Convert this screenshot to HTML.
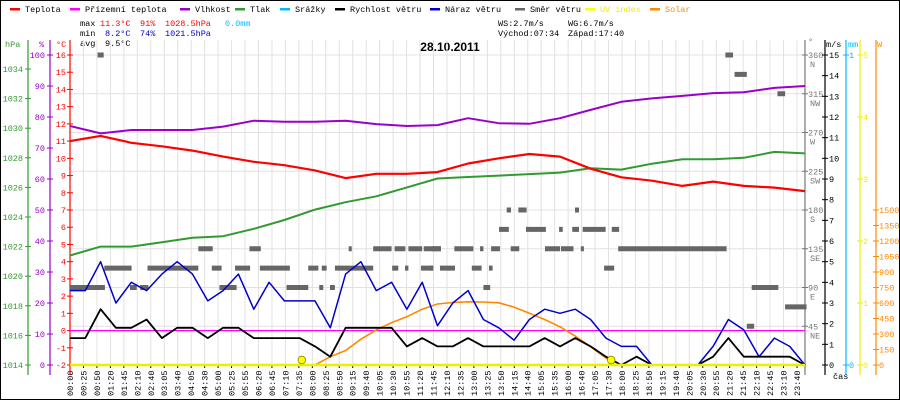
<!DOCTYPE html>
<html><head><meta charset="utf-8"><style>
html,body{margin:0;padding:0;background:#fff}
svg{display:block}
text{font-family:"Liberation Mono",monospace;font-size:8.5px}
</style></head><body>
<svg id="chart" width="900" height="400" viewBox="0 0 900 400" xmlns="http://www.w3.org/2000/svg">
<rect x="0.5" y="0.5" width="899" height="399" fill="#fff" stroke="#000"/>
<g id="legend"></g>
<g>
<text x="80" y="26">max</text><text x="100" y="26" fill="#f00">11.3°C</text><text x="140" y="26" fill="#f00">91%</text><text x="165" y="26" fill="#f00">1028.5hPa</text><text x="225" y="26" fill="#00bfff">0.0mm</text>
<text x="80" y="36">min</text><text x="105" y="36" fill="#00c">8.2°C</text><text x="140" y="36" fill="#00c">74%</text><text x="165" y="36" fill="#00c">1021.5hPa</text>
<text x="80" y="46">avg</text><text x="105" y="46">9.5°C</text>
<text x="498" y="26">WS:2.7m/s</text><text x="568" y="26">WG:6.7m/s</text>
<text x="498" y="36">Východ:07:34</text><text x="568" y="36">Západ:17:40</text>
</g>
<text x="450" y="51" text-anchor="middle" style="font-family:'Liberation Sans',sans-serif;font-size:12px;font-weight:bold">28.10.2011</text>
<g id="grid"></g>
<g id="axes"></g>
<g id="series"></g>
</svg>
<script>
// ---- data ----
const timeLabels=["00:00","00:25","00:50","01:20","01:45","02:10","02:40","03:05","03:40","04:05","04:30","05:00","05:25","05:55","06:20","06:45","07:10","07:35","08:00","08:25","08:50","09:15","09:40","10:05","10:30","10:55","11:20","11:45","12:10","12:35","13:00","13:25","13:50","14:15","14:40","15:05","15:35","16:00","16:40","17:05","17:30","18:00","18:25","18:50","19:15","19:40","20:05","20:30","20:55","21:20","21:45","22:10","22:45","23:10","23:40"];
const hourly=[0,1,2,3,4,5,6,7,8,9,10,11,12,13,14,15,16,17,18,19,20,21,22,23,24];
const temperature=[11.0,11.3,10.9,10.7,10.45,10.1,9.8,9.6,9.3,8.85,9.1,9.1,9.2,9.7,10.0,10.25,10.1,9.4,8.9,8.7,8.4,8.65,8.4,8.3,8.1];
const groundTemp=[0,0,0,0,0,0,0,0,0,0,0,0,0,0,0,0,0,0,0,0,0,0,0,0,0];
const humidity=[77.1,74.7,75.8,75.8,75.8,76.9,78.8,78.5,78.5,78.8,77.7,77.1,77.4,79.6,78,77.8,79.6,82.3,84.9,86,86.8,87.7,88,89.4,90];
const pressure=[1021.4,1022.0,1022.0,1022.3,1022.6,1022.7,1023.2,1023.8,1024.5,1025.0,1025.4,1026.0,1026.6,1026.7,1026.8,1026.9,1027.0,1027.3,1027.2,1027.6,1027.9,1027.9,1028.0,1028.4,1028.3];
const halfHours=[0,0.5,1,1.5,2,2.5,3,3.5,4,4.5,5,5.5,6,6.5,7,7.5,8,8.5,9,9.5,10,10.5,11,11.5,12,12.5,13,13.5,14,14.5,15,15.5,16,16.5,17,17.5,18,18.5,19,19.5,20,20.5,21,21.5,22,22.5,23,23.5,24];
const windSpeed=[1.3,1.3,2.7,1.8,1.8,2.2,1.3,1.8,1.8,1.3,1.8,1.8,1.3,1.3,1.3,1.3,0.9,0.4,1.8,1.8,1.8,1.8,0.9,1.3,0.9,0.9,1.3,0.9,0.9,0.9,0.9,1.3,0.9,1.3,0.9,0.4,0,0.4,0,0,0,0,0.4,1.3,0.4,0.4,0.4,0.4,0];
const windGust=[3.6,3.6,5.0,3.0,4.0,3.6,4.4,5.0,4.4,3.1,3.6,4.4,2.7,4.0,3.1,3.1,3.1,1.8,4.4,5.0,3.6,4.0,2.7,4.0,1.9,3.0,3.6,2.2,1.8,1.2,2.2,2.7,2.5,2.7,2.2,1.3,0.9,0.9,0,0,0,0,0.9,2.2,1.7,0.4,1.3,0.9,0];
const solarHours=[8.0,8.5,9,9.5,10,10.5,11,11.5,12,12.5,13,13.5,14,14.5,15,15.5,16,16.5,17,17.5,17.8];
const solar=[0,80,140,250,340,410,467,540,590,605,612,610,602,560,500,440,370,280,177,68,0];
const uvHours=[0,24];
const uvIndex=[0,0];
const sunEvents=[7.57,17.67];
const dirStart=[0,1.96,2.29,4.88,7.07,8.14,8.49,1.12,2.53,4.63,5.39,6.2,7.78,8.22,8.65,10.52,10.94,11.46,4.19,5.86,9.1,9.9,10.6,11.05,11.55,13.5,22.26,11.81,12.55,13.39,13.75,14.39,15.51,16.03,16.68,17.9,11.76,12.08,13.12,13.68,17.44,14.01,14.89,15.97,16.4,16.74,17.69,14.26,14.64,16.49,23.35,22.1,0.9,21.4,21.7,23.1];
const dirEnd=[1.14,2.18,2.56,5.44,7.78,8.27,8.65,2.01,4.19,4.95,5.88,7.18,8.11,8.38,9.9,10.72,11.05,11.86,4.66,6.23,9.2,10.5,10.95,11.5,12.11,13.72,23.13,12.11,13.17,13.5,14.04,14.67,16.0,16.44,16.78,21.44,11.86,12.57,13.44,13.8,17.77,14.33,15.54,16.09,16.62,17.49,17.93,14.4,14.91,16.62,24.05,22.34,1.1,21.65,22.1,23.35];
const dirValue=[90,90,90,90,90,90,90,112.5,112.5,112.5,112.5,112.5,112.5,112.5,112.5,112.5,112.5,112.5,135,135,135,135,135,135,135,90,90,135,135,135,135,135,135,135,135,135,112.5,112.5,112.5,112.5,112.5,157.5,157.5,157.5,157.5,157.5,157.5,180,180,180,67.5,45,360,360,337.5,315];
const legendNames=["Teplota","Přízemní teplota","Vlhkost","Tlak","Srážky","Rychlost větru","Náraz větru","Směr větru","UV index","Solar"];
const legendColors=["#f00","#f0f","#90c","#393","#0bf","#000","#00c","#666","#ff0","#f80"];

// ---- scales ----
const X0=70,X1=805,YB=365,YT=55;
const xT=h=>X0+(X1-X0)*h/24;
const yTemp=t=>YB-(t+2)*(YB-YT)/18;
const yHum=v=>YB-v*(YB-YT)/100;
const yPres=p=>YB-(p-1014)*14.8;
const yWind=v=>YB-v*(YB-YT)/15;
const yDir=d=>YB-d*(YB-YT)/360;
const yUV=v=>YB-v*(YB-YT)/5;
const ySol=w=>YB-w*(155/1500);
const NS="http://www.w3.org/2000/svg";
function mk(tag,attrs,parent,txt){const e=document.createElementNS(NS,tag);for(const k in attrs)e.setAttribute(k,attrs[k]);if(txt!==undefined)e.textContent=txt;parent.appendChild(e);return e;}
const grid=document.getElementById('grid'),axes=document.getElementById('axes'),series=document.getElementById('series'),legend=document.getElementById('legend');

// legend
const legX=[10,70,180,235,280,335,430,515,585,650];
legendNames.forEach((n,i)=>{
 const g=mk('g',{},legend);
 
 
 mk('rect',{x:legX[i],y:8,width:10,height:2.5,fill:legendColors[i]},g);
 mk('text',{x:legX[i]+15,y:12,fill:i==8?'#ee0':(i==9?'#f80':'#000')},g,n);
});

// grid
timeLabels.forEach((l,i)=>{
 const x=X0+i*(797-X0)/(timeLabels.length-1);
 const ln=mk('line',{x1:x,y1:40,x2:x,y2:YB,stroke:'#e4e0e0','stroke-width':1},grid);
 
 
 const t=mk('text',{transform:`translate(${x+3},396) rotate(-90)`,'font-size':'8.5'},axes,l);
 
 
 mk('line',{x1:x,y1:YB,x2:x,y2:YB+3,stroke:'#000'},axes);
});
for(let d=45;d<=360;d+=45){
 const ln=mk('line',{x1:X0,y1:yDir(d),x2:X1,y2:yDir(d),stroke:'#e4e0e0'},grid);
 
 
}

// left axes
function vaxis(x,y1,color,name){const l=mk('line',{x1:x,y1:y1,x2:x,y2:YB+10,stroke:color,'stroke-width':1.2},axes);}
vaxis(28,40,'#393','hpa-axis');vaxis(50,40,'#90c','humidity-axis');vaxis(70,40,'#f00','temp-axis');
vaxis(805,40,'#777','direction-axis');vaxis(825,40,'#000','wind-axis');vaxis(846,40,'#0bf','rain-axis');vaxis(860,40,'#ee0','uv-axis');vaxis(876,40,'#f80','solar-axis');
mk('text',{x:5,y:47,fill:'#393'},axes,'hPa');mk('text',{x:39,y:47,fill:'#90c'},axes,'%');mk('text',{x:56,y:47,fill:'#f00'},axes,'°C');
mk('text',{x:808,y:44,fill:'#777'},axes,'°');mk('text',{x:826,y:47},axes,'m/s');mk('text',{x:848,y:47,fill:'#0bf'},axes,'mm');mk('text',{x:877,y:47,fill:'#f80'},axes,'W');
mk('text',{x:833,y:379},axes,'čas');
for(let p=1014;p<=1034;p+=2){const y=yPres(p);mk('line',{x1:25,y1:y,x2:31,y2:y,stroke:'#393'},axes);mk('text',{x:23,y:y+3,fill:'#393','text-anchor':'end'},axes,p);}
for(let h=0;h<=100;h+=10){const y=yHum(h);mk('line',{x1:47,y1:y,x2:53,y2:y,stroke:'#90c'},axes);mk('text',{x:45,y:y+3,fill:'#90c','text-anchor':'end'},axes,h);}
for(let t=-2;t<=16;t++){const y=yTemp(t);mk('line',{x1:67,y1:y,x2:73,y2:y,stroke:'#f00'},axes);mk('text',{x:66,y:y+3,fill:'#f00','text-anchor':'end'},axes,t);}
const dirNames=["","NE","E","SE","S","SW","W","NW","N"];
for(let k=1;k<=8;k++){const d=k*45,y=yDir(d);mk('line',{x1:802,y1:y,x2:808,y2:y,stroke:'#777'},axes);mk('text',{x:808,y:y+3,fill:'#777'},axes,d);mk('text',{x:810,y:y+12,fill:'#777'},axes,dirNames[k]);}
for(let v=0;v<=15;v++){const y=yWind(v);mk('line',{x1:822,y1:y,x2:828,y2:y,stroke:'#000'},axes);mk('text',{x:829,y:y+3},axes,v);}
[0,1].forEach(v=>{const y=v?YT:YB;mk('line',{x1:843,y1:y,x2:849,y2:y,stroke:'#0bf'},axes);mk('text',{x:849,y:y+3,fill:'#0bf'},axes,v);});
for(let v=0;v<=5;v++){const y=yUV(v);mk('line',{x1:857,y1:y,x2:863,y2:y,stroke:'#ee0'},axes);mk('text',{x:863,y:y+3,fill:'#ee0'},axes,v);}
for(let w=0;w<=1500;w+=150){const y=ySol(w);mk('line',{x1:873,y1:y,x2:879,y2:y,stroke:'#f80'},axes);mk('text',{x:879,y:y+3,fill:'#f80'},axes,w);}

// series
function line(xs,ys,fx,fy,color,w,name){
 const pts=xs.map((h,i)=>xT(h).toFixed(1)+','+fy(ys[i]).toFixed(1)).join(' ');
 const p=mk('polyline',{points:pts,fill:'none',stroke:color,'stroke-width':w,'stroke-linejoin':'round'},series);
 
 
}
// wind direction dashes
dirStart.forEach((s,i)=>{
 const r=mk('rect',{x:xT(s),y:yDir(dirValue[i])-2.5,width:Math.max(3,xT(dirEnd[i])-xT(s)),height:5,fill:'#666'},series);
 
 
});
line(hourly,groundTemp,xT,yTemp,'#f0f',1.2,'ground-temp-line');
line(hourly,humidity,xT,yHum,'#90c',2,'humidity-line');
line(hourly,pressure,xT,yPres,'#393',2,'pressure-line');
line(hourly,temperature,xT,yTemp,'#f00',2.2,'temperature-line');
line(solarHours,solar,xT,ySol,'#f80',1.6,'solar-line');
line(halfHours,windGust,xT,yWind,'#00c',1.5,'wind-gust-line');
line(halfHours,windSpeed,xT,yWind,'#000',1.8,'wind-speed-line');
line(uvHours,uvIndex,xT,yUV,'#ee0',2.5,'uv-line');
sunEvents.forEach(h=>{
 const c=mk('circle',{cx:xT(h),cy:YB-5,r:3.8,fill:'#ff0',stroke:'#880','stroke-width':0.8},series);
 
 
});
</script>
</body></html>
